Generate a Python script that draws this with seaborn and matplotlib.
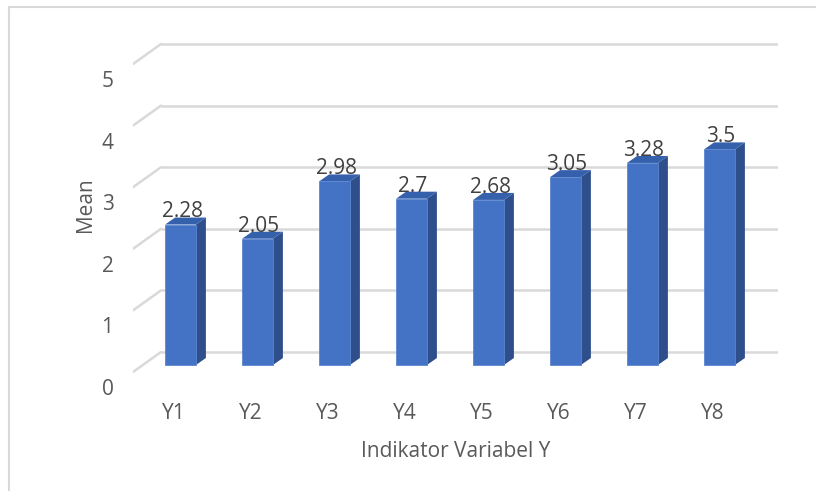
import matplotlib
matplotlib.use('Agg')
import matplotlib.pyplot as plt
from matplotlib.patches import Polygon, Rectangle
import numpy as np
import pandas as pd
import seaborn as sns

# data
categories = ['Y1', 'Y2', 'Y3', 'Y4', 'Y5', 'Y6', 'Y7', 'Y8']
means = [2.28, 2.05, 2.98, 2.7, 2.68, 3.05, 3.28, 3.5]
y_ticks = [0, 1, 2, 3, 4, 5]

df = pd.DataFrame({'indikator': categories, 'mean': means})

sns.set_theme(style='white')
plt.rcParams['font.family'] = ['Open Sans', 'DejaVu Sans']

front_col = '#4472C4'
side_col = '#2E4F8C'
top_col = '#3560AC'
grid_col = '#D9D9D9'
text_col = '#595959'

fig = plt.figure(figsize=(8.16, 4.91), dpi=100)
# axes placed in pixel terms of the 816x491 canvas
W, H = 816, 491
left, right, top, bottom = 133, 778, 30, 392
ax = fig.add_axes([left / W, 1 - bottom / H, (right - left) / W, (bottom - top) / H])

# front faces
sns.barplot(data=df, x='indikator', y='mean', color=front_col, width=0.4,
            saturation=1, ax=ax, zorder=3, edgecolor='#5B86D0', linewidth=0.6)

# pixel scales of the 3d look
px_x = 77.0   # px per category
px_y = 61.6   # px per unit
x0 = 180.5    # px of first bar centre
y0 = 365      # px of value 0 on bar front
xlim = ((left - x0) / px_x, (right - x0) / px_x)
ax.set_xlim(*xlim)
ax.set_ylim((y0 - bottom) / px_y, (y0 - top) / px_y)

# back wall gridlines + floor diagonals
back_dy = 13 / px_y
front_dy = -7 / px_y
back_x = (161 - x0) / px_x
for v in y_ticks:
    ax.plot([back_x, xlim[1]], [v + back_dy, v + back_dy],
            color=grid_col, lw=1.8, zorder=1, solid_capstyle='butt')
    ax.plot([xlim[0], back_x], [v + front_dy, v + back_dy],
            color=grid_col, lw=1.8, zorder=1)

# depth faces built from each bar
dx = 10 / px_x
dy = 7 / px_y
for p, val in zip(ax.patches, means):
    x1 = p.get_x()
    x2 = x1 + p.get_width()
    h = p.get_height()
    side = Polygon([(x2, 0), (x2, h), (x2 + dx, h + dy), (x2 + dx, dy)],
                   closed=True, facecolor=side_col, edgecolor='none', zorder=2.9)
    topf = Polygon([(x1, h), (x1 + dx, h + dy), (x2 + dx, h + dy), (x2, h)],
                   closed=True, facecolor=top_col, edgecolor='none', zorder=2.9)
    ax.add_patch(side)
    ax.add_patch(topf)
    ax.text((x1 + x2) / 2 + 0.02, h + dy * 0.3, f'{val:g}', ha='center', va='bottom',
            fontsize=15, color='#404040', zorder=5)

# ticks
tick_off = -22 / px_y
ax.set_yticks([v + tick_off for v in y_ticks])
ax.set_yticklabels([str(v) for v in y_ticks])
ax.set_xticks(np.arange(len(categories)) - 0.09)
ax.set_xticklabels(categories)
ax.tick_params(axis='both', length=0, labelsize=15, colors=text_col)
ax.tick_params(axis='y', pad=14)
ax.tick_params(axis='x', pad=8)

ax.set_xlabel('Indikator Variabel Y', fontsize=15, color=text_col)
ax.set_ylabel('Mean', fontsize=15, color=text_col)
ax.xaxis.set_label_coords(0.5, -0.135)
ax.yaxis.set_label_coords(-0.058, 0.517)

for s in ax.spines.values():
    s.set_visible(False)
ax.set_facecolor('none')

# chart area border
fig.patches.append(Rectangle((9 / W, -0.1), 1.2, 1 - 7 / H + 0.1, transform=fig.transFigure,
                             fill=False, edgecolor=grid_col, lw=1.5, zorder=0))

plt.savefig('out.png', dpi=100)
